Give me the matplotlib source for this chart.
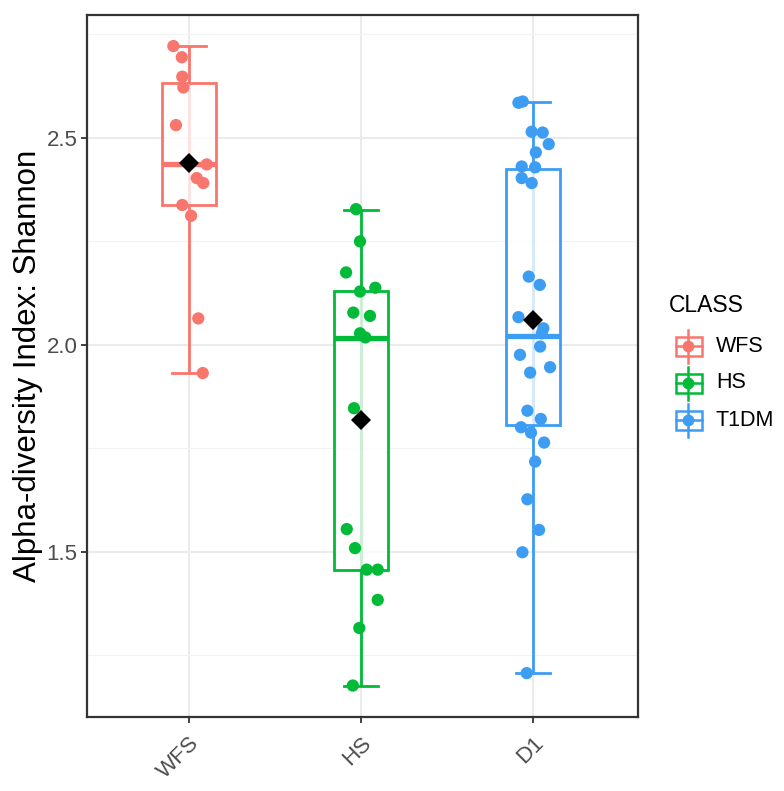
import matplotlib
matplotlib.use("Agg")
import matplotlib.pyplot as plt
from matplotlib.patches import Rectangle
from matplotlib.ticker import MultipleLocator

plt.rcParams['font.family'] = ['Liberation Sans', 'DejaVu Sans']

# ---- data ----
groups = ['WFS', 'HS', 'D1']
legend_labels = ['WFS', 'HS', 'T1DM']
colors = ['#F8766D', '#00BA38', '#3D9DF3']

wfs_values = [2.722, 2.695, 2.648, 2.622, 2.531, 2.436, 2.403, 2.391,
              2.338, 2.312, 2.064, 1.932]
wfs_jitter = [-0.091, -0.042, -0.039, -0.033, -0.076, 0.103, 0.045, 0.083,
              -0.039, 0.012, 0.054, 0.080]

hs_values = [2.328, 2.250, 2.175, 2.129, 2.138, 2.078, 2.070, 2.028, 2.018,
             1.847, 1.555, 1.509, 1.457, 1.457, 1.384, 1.316, 1.177]
hs_jitter = [-0.029, -0.006, -0.087, -0.006, 0.083, -0.045, 0.052, -0.006,
             0.025, -0.041, -0.083, -0.035, 0.033, 0.097, 0.097, -0.010, -0.048]

d1_values = [2.588, 2.585, 2.515, 2.513, 2.485, 2.465, 2.431, 2.429, 2.403,
             2.391, 2.165, 2.145, 2.067, 2.040, 2.028, 1.996, 1.976, 1.946,
             1.933, 1.841, 1.821, 1.801, 1.788, 1.764, 1.718, 1.627, 1.553,
             1.499, 1.207]
d1_jitter = [-0.060, -0.085, -0.008, 0.056, 0.091, 0.016, -0.066, 0.012,
             -0.066, -0.008, -0.025, 0.039, -0.085, 0.060, 0.051, 0.041,
             -0.076, 0.099, -0.017, -0.033, 0.045, -0.070, -0.012, 0.064,
             0.012, -0.033, 0.035, -0.062, -0.037]

# box summaries (whisker low, Q1, median, Q3, whisker high) and means
whis_lo = [1.932, 1.177, 1.207]
q1 = [2.338, 1.457, 1.807]
medians = [2.436, 2.016, 2.022]
q3 = [2.632, 2.129, 2.424]
whis_hi = [2.722, 2.326, 2.588]
means = [2.440, 1.819, 2.059]

values = [wfs_values, hs_values, d1_values]
jitters = [wfs_jitter, hs_jitter, d1_jitter]

W, H = 784, 791
fig = plt.figure(figsize=(W / 100, H / 100), dpi=100)
ax = fig.add_axes([87 / W, 1 - 717 / H, (638 - 87) / W, (717 - 15) / H])

box_w = 0.31
cap_w = 0.2
lw = 2.0

for i, g in enumerate(groups):
    x = i + 1
    c = colors[i]
    # errorbar whisker (behind the box)
    ax.plot([x, x], [whis_lo[i], whis_hi[i]], color=c, lw=lw, zorder=2,
            solid_capstyle='butt')
    ax.plot([x - cap_w / 2, x + cap_w / 2], [whis_lo[i], whis_lo[i]],
            color=c, lw=lw, zorder=2)
    ax.plot([x - cap_w / 2, x + cap_w / 2], [whis_hi[i], whis_hi[i]],
            color=c, lw=lw, zorder=2)
    # box with semi-transparent white fill
    ax.add_patch(Rectangle((x - box_w / 2, q1[i]), box_w, q3[i] - q1[i],
                           facecolor='white', alpha=0.78, edgecolor='none',
                           zorder=3))
    ax.add_patch(Rectangle((x - box_w / 2, q1[i]), box_w, q3[i] - q1[i],
                           facecolor='none', edgecolor=c, lw=lw, zorder=4))
    ax.plot([x - box_w / 2, x + box_w / 2], [medians[i], medians[i]],
            color=c, lw=lw * 1.9, zorder=4, solid_capstyle='butt')
    # jittered points
    xs = [x + j for j in jitters[i]]
    ax.scatter(xs, values[i], s=78, color=c, edgecolors='none', zorder=5)
    # mean
    ax.plot([x], [means[i]], marker='D', ms=10, color='black',
            markeredgewidth=0, zorder=6)

ax.set_xlim(0.407, 3.61)
ax.set_ylim(1.101, 2.797)
ax.set_xticks([1, 2, 3])
ax.set_xticklabels(groups, rotation=45, ha='right', rotation_mode='anchor')
ax.yaxis.set_major_locator(MultipleLocator(0.5))
ax.yaxis.set_minor_locator(MultipleLocator(0.25))
ax.grid(True, which='major', color='#EBEBEB', lw=1.5, zorder=0)
ax.grid(True, which='minor', axis='y', color='#F2F2F2', lw=0.8, zorder=0)
ax.set_axisbelow(True)
ax.tick_params(which='major', length=4, width=1.3, color='#333333',
               labelsize=16, labelcolor='#4D4D4D', pad=3)
ax.tick_params(which='minor', length=0)
ax.tick_params(axis='x', pad=7)
for sp in ax.spines.values():
    sp.set_color('#333333')
    sp.set_linewidth(1.6)
ax.set_ylabel('Alpha-diversity Index: Shannon', fontsize=22.5, labelpad=2)

# ---- legend drawn in pixel coordinates ----
lax = fig.add_axes([0, 0, 1, 1])
lax.set_xlim(0, W)
lax.set_ylim(H, 0)
lax.axis('off')
lax.text(669, 305, 'CLASS', fontsize=16.5, va='center', ha='left')
for k, lab in enumerate(legend_labels):
    cy = 346 + 37 * k
    c = colors[k]
    cx = 688.5
    lax.plot([cx, cx], [cy - 16, cy + 17], color=c, lw=1.8)
    lax.add_patch(Rectangle((676, cy - 9.5), 26, 19, facecolor='white',
                            edgecolor=c, lw=1.8))
    lax.plot([676, 702], [cy, cy], color=c, lw=1.8)
    lax.plot([cx], [cy], marker='o', ms=8.5, color=c, markeredgewidth=0)
    lax.text(716, cy, lab, fontsize=15.5, va='center', ha='left')

fig.savefig('out.png', dpi=100)
